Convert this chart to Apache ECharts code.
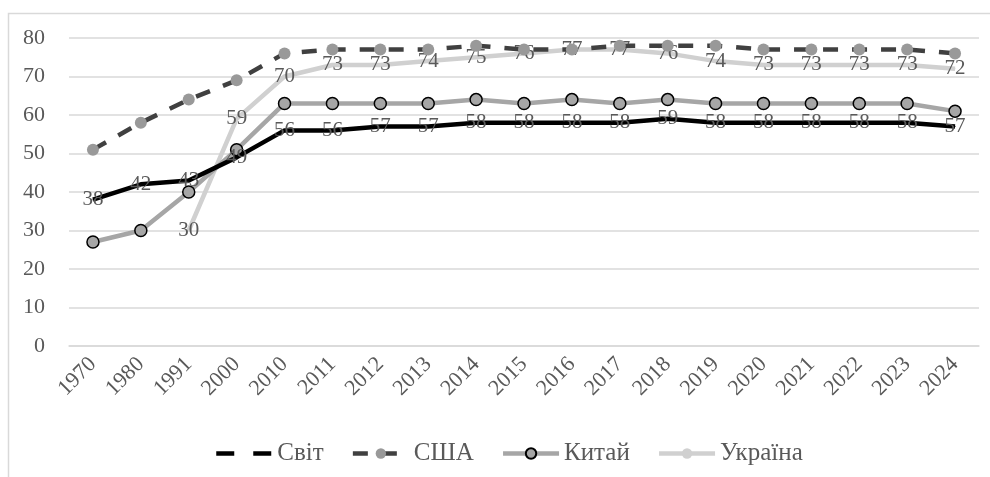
<!DOCTYPE html>
<html>
<head>
<meta charset="utf-8">
<script src="https://cdn.jsdelivr.net/npm/echarts@6/dist/echarts.min.js"></script>
<style>
  html, body { margin: 0; padding: 0; background: #fff; }
  #main { width: 990px; height: 477px; }
</style>
</head>
<body>
<div id="main"></div>
<script>
// роки
var years = ['1970', '1980', '1991', '2000', '2010', '2011', '2012', '2013', '2014', '2015',
  '2016', '2017', '2018', '2019', '2020', '2021', '2022', '2023', '2024'];

var svit = [38, 42, 43, 49, 56, 56, 57, 57, 58, 58, 58, 58, 59, 58, 58, 58, 58, 58, 57];
var usa = [51, 58, 64, 69, 76, 77, 77, 77, 78, 77, 77, 78, 78, 78, 77, 77, 77, 77, 76];
var china = [27, 30, 40, 51, 63, 63, 63, 63, 64, 63, 64, 63, 64, 63, 63, 63, 63, 63, 61];
var ukraine = [null, null, 30, 59, 70, 73, 73, 74, 75, 76, 77, 77, 76, 74, 73, 73, 73, 73, 72];

var yTicks = [0, 10, 20, 30, 40, 50, 60, 70, 80];

var font = '"Liberation Serif", "Times New Roman", serif';
var txt = '#595959';

var myChart = echarts.init(document.getElementById('main'));

var dataLabel = {
  show: true,
  position: 'inside',
  color: txt,
  fontFamily: font,
  fontSize: 21
};

var option = {
  animation: false,
  textStyle: { fontFamily: font },
  graphic: [{
    type: 'polyline',
    shape: { points: [[8.5, 477], [8.5, 13.5], [1000, 13.5]] },
    style: { stroke: '#d9d9d9', lineWidth: 1.5, fill: null }
  }],
  grid: { left: 69, right: 11, top: 38, bottom: 131 },
  legend: {
    top: 436,
    left: 209,
    itemWidth: 56,
    itemHeight: 13,
    itemGap: 27,
    textStyle: { color: txt, fontSize: 25, fontFamily: font },
    data: [
      { name: 'Світ', lineStyle: { type: [18, 19], width: 4.5 }, itemStyle: { opacity: 0 } },
      { name: 'США', lineStyle: { width: 4.5 } },
      { name: 'Китай', lineStyle: { width: 4.5 } },
      { name: 'Україна', lineStyle: { width: 4.5 } }
    ]
  },
  xAxis: {
    type: 'category',
    data: years,
    boundaryGap: true,
    axisLine: { lineStyle: { color: '#d9d9d9', width: 1.5 } },
    axisTick: { show: false },
    axisLabel: {
      rotate: 45,
      color: txt,
      fontSize: 22,
      fontFamily: font,
      interval: 0,
      margin: 15
    }
  },
  yAxis: {
    type: 'value',
    min: yTicks[0],
    max: yTicks[yTicks.length - 1],
    interval: 10,
    axisLine: { show: false },
    axisTick: { show: false },
    splitLine: { lineStyle: { color: '#d9d9d9', width: 1.5 } },
    axisLabel: { color: txt, fontSize: 22, fontFamily: font, margin: 24 }
  },
  series: [
    {
      name: 'Світ',
      type: 'line',
      data: svit,
      symbol: 'circle',
      symbolSize: 1,
      lineStyle: { color: '#000', width: 4.5 },
      itemStyle: { color: '#000' },
      label: dataLabel,
      z: 3
    },
    {
      name: 'США',
      type: 'line',
      data: usa,
      symbol: 'circle',
      symbolSize: 12,
      lineStyle: { color: '#404040', width: 4.5, type: [15, 14] },
      itemStyle: { color: '#999999' },
      z: 2
    },
    {
      name: 'Китай',
      type: 'line',
      data: china,
      symbol: 'circle',
      symbolSize: 12,
      lineStyle: { color: '#a6a6a6', width: 4.5 },
      itemStyle: { color: '#a6a6a6', borderColor: '#000', borderWidth: 1.5 },
      z: 2
    },
    {
      name: 'Україна',
      type: 'line',
      data: ukraine,
      symbol: 'circle',
      symbolSize: 1,
      lineStyle: { color: '#d0d0d0', width: 4.5 },
      itemStyle: { color: '#d0d0d0' },
      label: dataLabel,
      z: 1
    }
  ]
};

myChart.setOption(option);
</script>
</body>
</html>
